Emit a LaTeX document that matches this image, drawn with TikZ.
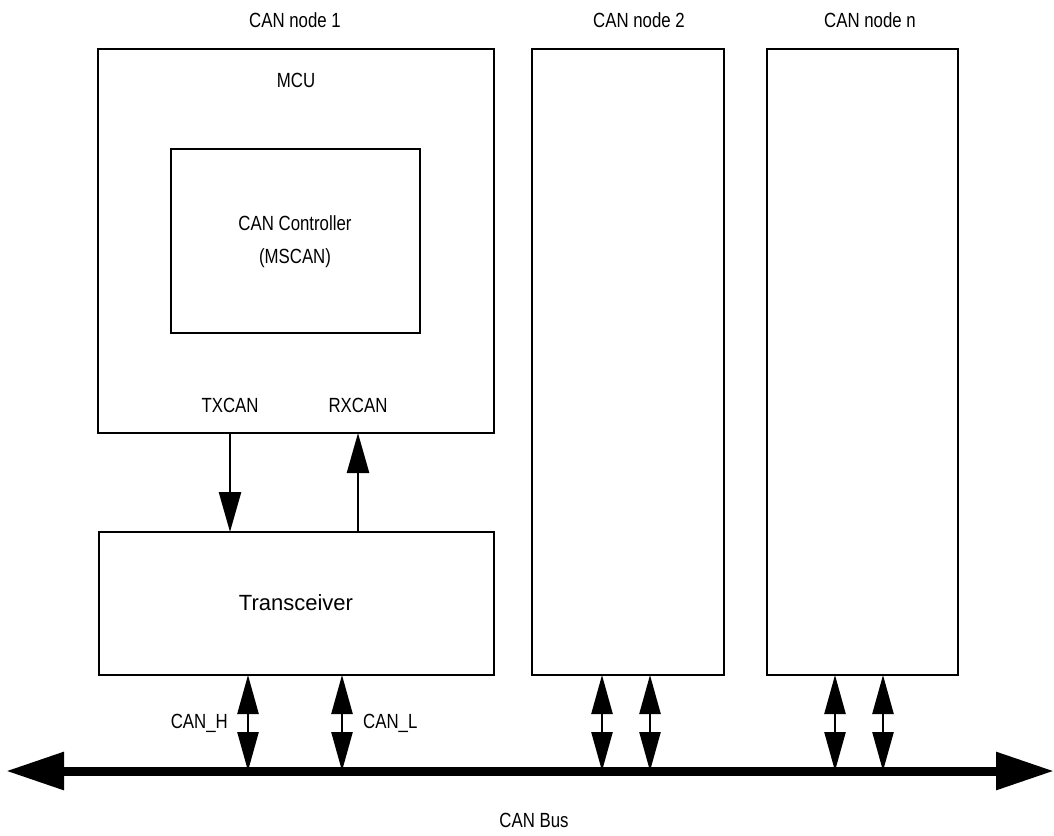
\documentclass[tikz,border=0pt]{standalone}
\usepackage{fontspec}
\setmainfont[FakeStretch=0.82]{Liberation Sans}
\newfontfamily\widefont{Liberation Sans}
\usetikzlibrary{arrows.meta}
\tikzset{
  box/.style={draw, line width=2.5pt, inner sep=0pt, outer sep=0pt},
  lbl/.style={inner sep=0pt, font=\fontsize{20.5}{33}\selectfont},
  sig/.style={line width=2.5pt, -{Triangle[length=40pt,width=22pt]}},
  bid/.style={line width=2.5pt, {Triangle[length=39pt,width=21pt]}-{Triangle[length=39pt,width=21pt]}},
  busline/.style={line width=9pt, {Triangle[length=58pt,width=36pt]}-{Triangle[length=58pt,width=36pt]}, shorten <=0pt},
}
\begin{document}
\begin{tikzpicture}[x=1pt,y=-1pt]
\useasboundingbox (0,0) rectangle (1054,835);
% boxes
\node[box, minimum width=396pt, minimum height=384pt] (mcu) at (296,241) {};
\node[box, minimum width=249pt, minimum height=184pt] (ctrl) at (295.5,241) {};
\node[box, minimum width=395pt, minimum height=143pt] (trx) at (296.5,603.5) {};
\node[box, minimum width=192pt, minimum height=626pt] (n2) at (628,362) {};
\node[box, minimum width=191pt, minimum height=626pt] (nn) at (862.5,362) {};
% labels
\node[lbl] (l1) at (295,20) {CAN node 1};
\node[lbl] (l2) at (639,20) {CAN node 2};
\node[lbl] (ln) at (870,20) {CAN node n};
\node[lbl] (mculbl) at (296,80) {MCU};
\node[lbl, align=center] (ctrllbl) at (295,242) {CAN Controller\\(MSCAN)};
\node[lbl] (tx) at (230,405) {TXCAN};
\node[lbl] (rx) at (358,405) {RXCAN};
\node[lbl, font=\widefont\fontsize{22}{26}\selectfont] (trxlbl) at (296,603) {Transceiver};
\node[lbl, anchor=east] (canh) at (228,723) {CAN\_H};
\node[lbl, anchor=west] (canl) at (363,723) {CAN\_L};
\node[lbl] (buslbl) at (534,820) {CAN Bus};
% bus
\coordinate (busL) at (6,771);
\coordinate (busR) at (1054,771);
\coordinate (b1) at (248,771);
\coordinate (b2) at (342,771);
\coordinate (b3) at (602,771);
\coordinate (b4) at (650,771);
\coordinate (b5) at (835,771);
\coordinate (b6) at (883,771);
% signal arrows
\draw[sig] (tx.center |- mcu.south) -- (tx.center |- trx.north);
\draw[sig] (rx.center |- trx.north) -- (rx.center |- mcu.south);
% bidirectional
\draw[bid] (b1 |- trx.south) -- (b1);
\draw[bid] (b2 |- trx.south) -- (b2);
\draw[bid] (b3 |- n2.south) -- (b3);
\draw[bid] (b4 |- n2.south) -- (b4);
\draw[bid] (b5 |- nn.south) -- (b5);
\draw[bid] (b6 |- nn.south) -- (b6);
\draw[busline] (busL) -- (busR);
\end{tikzpicture}
\end{document}
